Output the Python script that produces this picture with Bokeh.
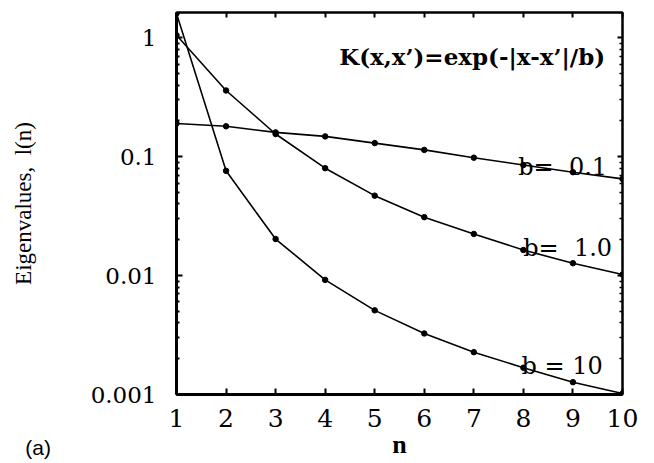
from bokeh.plotting import figure
from bokeh.models import (FixedTicker, CustomJSTickFormatter, Label, LinearAxis, LogAxis, Range1d)
from bokeh.embed import file_html
from bokeh.resources import INLINE

# Eigenvalue spectra of the exponential kernel for three correlation lengths
n = [1, 2, 3, 4, 5, 6, 7, 8, 9, 10]
eig_b01 = [0.19, 0.18, 0.16, 0.148, 0.13, 0.114, 0.098, 0.085, 0.074, 0.065]
eig_b1 = [1.05, 0.36, 0.155, 0.08, 0.047, 0.031, 0.0224, 0.0164, 0.0127, 0.0102]
eig_b10 = [1.6, 0.076, 0.0203, 0.0092, 0.0051, 0.00326, 0.00227, 0.00168, 0.00127, 0.00102]

x_ticks = [1, 2, 3, 4, 5, 6, 7, 8, 9, 10]
y_ticks = [0.001, 0.01, 0.1, 1]
y_minor = [m * d for d in [0.001, 0.01, 0.1, 1] for m in range(2, 10)]

SERIF = "Liberation Serif"
WIDE = "DejaVu Serif"
NBSP = "\u00a0"

p = figure(width=654, height=463, y_axis_type="log",
           x_range=Range1d(1, 10), y_range=Range1d(0.001, 1.63),
           output_backend="svg", toolbar_location=None,
           min_border_left=176, min_border_right=32,
           min_border_top=12, min_border_bottom=69)
p.grid.visible = False
p.outline_line_color = "black"
p.outline_line_width = 2
p.background_fill_color = "white"
p.border_fill_color = "white"

for xs, ys in [(n, eig_b01), (n, eig_b1), (n, eig_b10)]:
    p.line(xs, ys, line_color="black", line_width=1.6)
    p.scatter(xs, ys, size=5.5, color="black")

fmt = CustomJSTickFormatter(code="return tick.toString();")
blank = CustomJSTickFormatter(code="return '';")

xa = p.xaxis[0]
xa.ticker = FixedTicker(ticks=x_ticks, minor_ticks=[])
xa.axis_label = "n"
xa.axis_label_text_font = SERIF
xa.axis_label_text_font_style = "bold"
xa.axis_label_text_font_size = "26px"
xa.axis_label_text_color = "black"
xa.axis_label_standoff = 0
xa.major_label_text_font = WIDE
xa.major_label_text_font_size = "25px"
xa.major_label_standoff = 14

ya = p.yaxis[0]
ya.ticker = FixedTicker(ticks=y_ticks, minor_ticks=y_minor)
ya.formatter = fmt
ya.axis_label = "Eigenvalues," + NBSP + " l(n)"
ya.axis_label_text_font = SERIF
ya.axis_label_text_font_style = "normal"
ya.axis_label_text_font_size = "23px"
ya.axis_label_text_color = "black"
ya.axis_label_standoff = 52
ya.major_label_text_font = WIDE
ya.major_label_text_font_size = "23px"
ya.major_label_standoff = 20

for ax in (xa, ya):
    ax.axis_line_width = 3
    ax.major_tick_in = 6
    ax.major_tick_out = 0
    ax.minor_tick_in = 3
    ax.minor_tick_out = 0
    ax.major_tick_line_width = 2
    ax.minor_tick_line_width = 2
    ax.major_label_text_color = "black"

# Mirrored tick marks along the top and right edges
top = LinearAxis(ticker=FixedTicker(ticks=x_ticks, minor_ticks=[]), formatter=blank)
right = LogAxis(ticker=FixedTicker(ticks=y_ticks, minor_ticks=y_minor), formatter=blank)
for ax in (top, right):
    ax.major_label_standoff = 0
    ax.axis_line_width = 2
    ax.major_tick_in = 5
    ax.major_tick_out = 0
    ax.minor_tick_in = 3
    ax.minor_tick_out = 0
    ax.major_tick_line_width = 2
    ax.minor_tick_line_width = 1.5
p.add_layout(top, "above")
p.add_layout(right, "right")

def note(x, y, text, font=WIDE, size="24px", style="normal"):
    p.add_layout(Label(x=x, y=y, text=text, text_font=font, text_font_size=size,
                       text_font_style=style, text_color="black",
                       text_align="right", text_baseline="alphabetic"))

note(9.65, 0.70, "K(x,x\u2019)=exp(-|x-x\u2019|/b)", size="23px", style="bold")
note(9.69, 0.082, "b=" + NBSP + " 0.1")
note(9.79, 0.017, "b=" + NBSP + " 1.0")
note(9.6, 0.00172, "b = 10")

# Panel tag below the axes; kept in a side panel so it is not clipped to the frame
tag = Label(x=-2.05, y=0.00036, text="(a)", text_font="Liberation Sans",
            text_font_size="21px", text_color="black",
            text_align="left", text_baseline="alphabetic")
p.add_layout(tag, "right")

open("out.html", "w").write(file_html(p, INLINE))
